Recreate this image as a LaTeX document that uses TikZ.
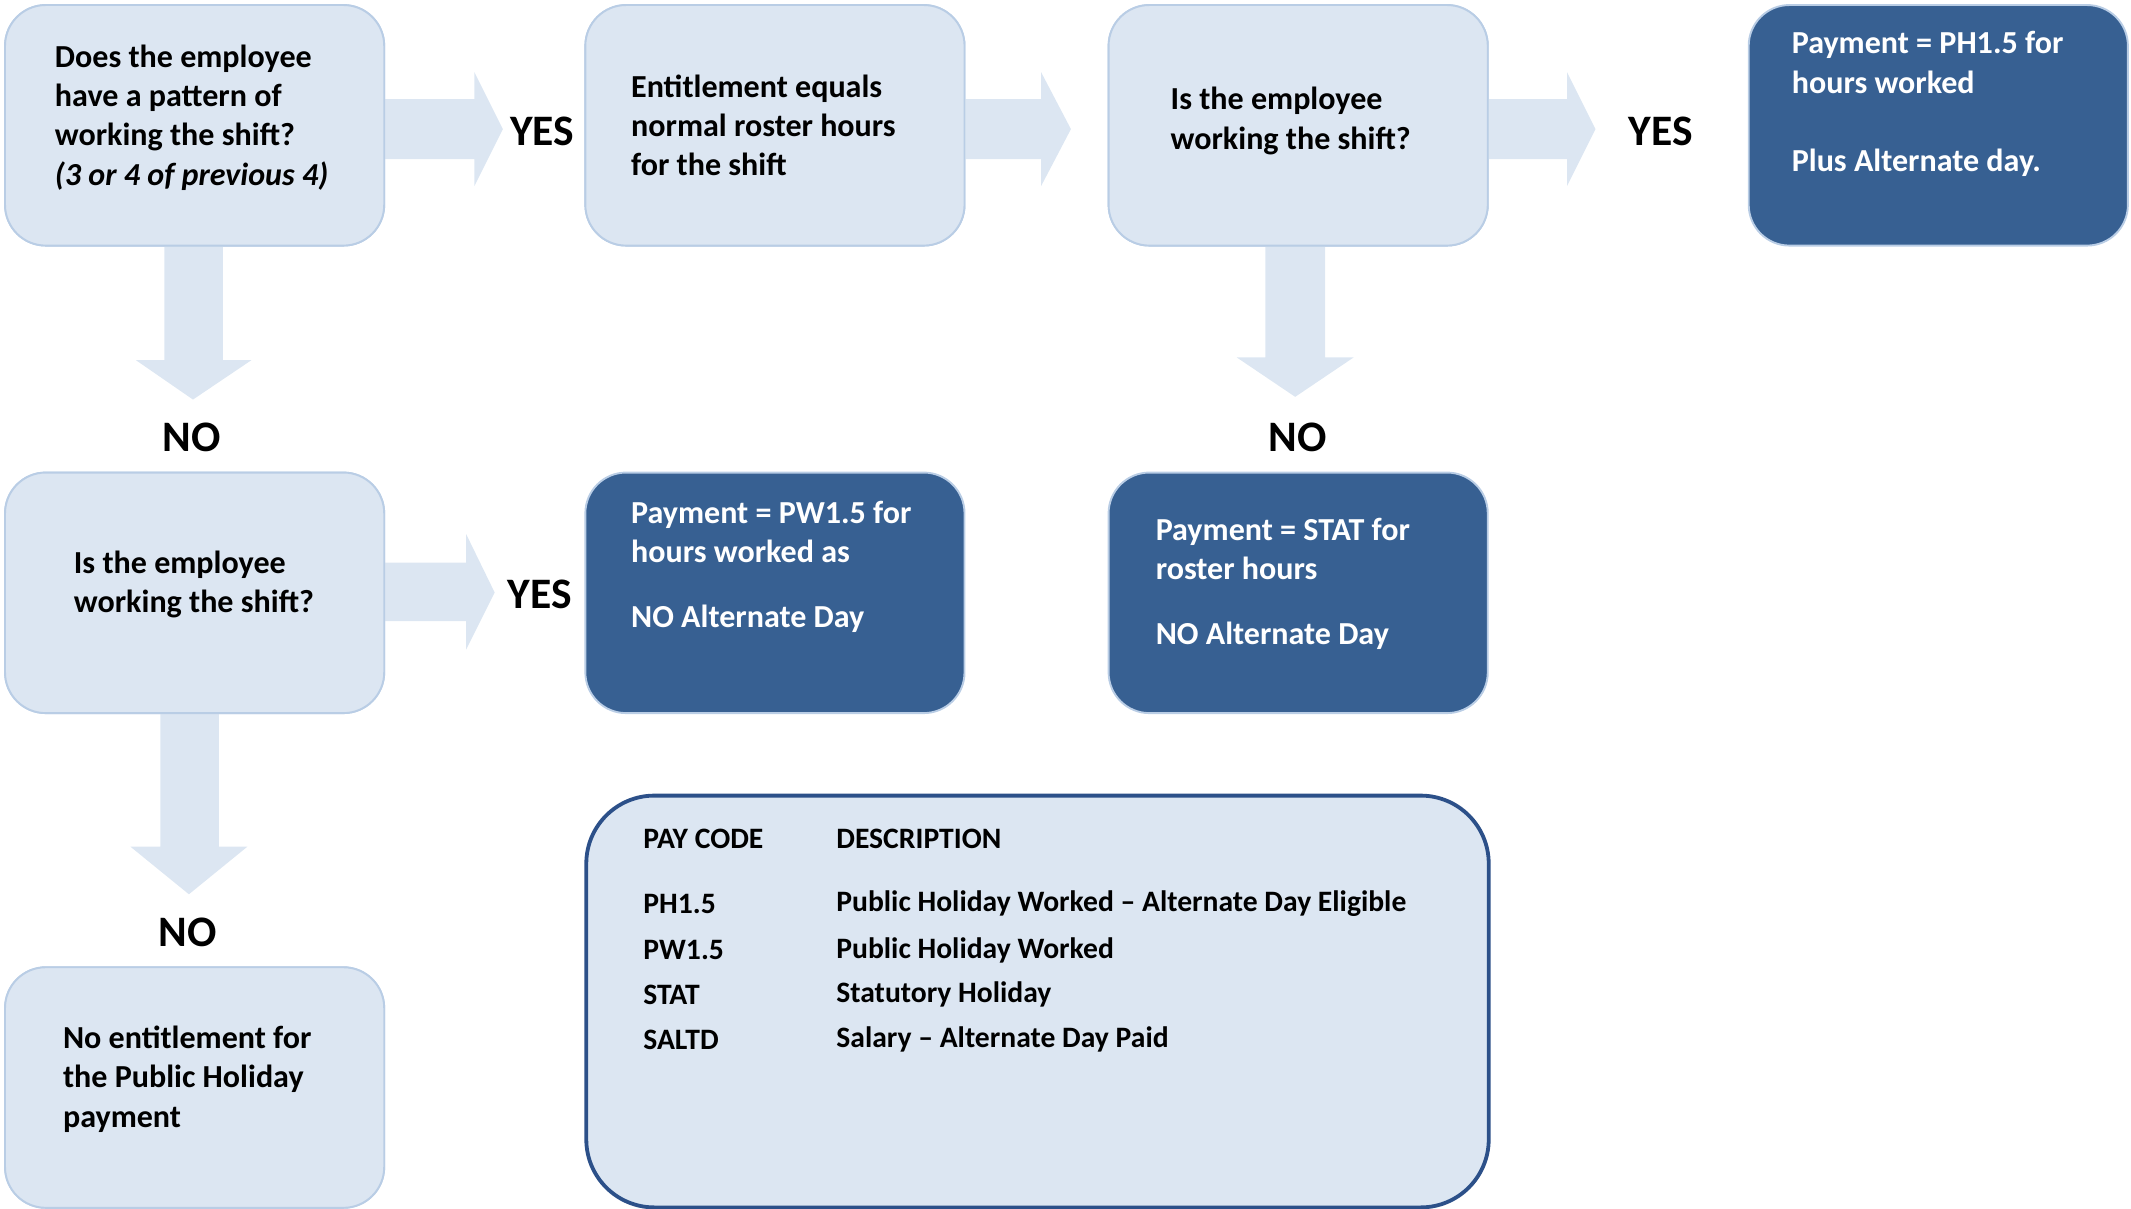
\documentclass[tikz,border=0pt]{standalone}
\usepackage{fontspec}
\setmainfont{Carlito}
\definecolor{lightfill}{HTML}{DCE6F2}
\definecolor{lightline}{HTML}{B9CDE5}
\definecolor{darkfill}{HTML}{376092}
\definecolor{legendline}{HTML}{2C5089}
\begin{document}
\begin{tikzpicture}[x=0.5pt,y=-0.5pt,
  lbox/.style={draw=lightline, line width=0.7pt, fill=lightfill, rounded corners=15pt,
    minimum width=139.5pt, minimum height=88.5pt, inner sep=0pt, anchor=north west},
  dbox/.style={lbox, fill=darkfill},
  legbox/.style={draw=legendline, line width=1.4pt, fill=lightfill, rounded corners=25pt,
    minimum width=332pt, minimum height=151.5pt, inner sep=0pt, anchor=north west},
  txt/.style={align=left, inner sep=0pt, anchor=west, text=black,
    font=\bfseries\fontsize{11.8}{14.4}\selectfont},
  wtxt/.style={txt, text=white},
  lgtxt/.style={inner sep=0pt, anchor=west, font=\bfseries\fontsize{10.9}{13}\selectfont},
  lab/.style={inner sep=0pt, font=\bfseries\fontsize{16}{19}\selectfont},
  arw/.style={fill=lightfill, draw=none}]
\useasboundingbox (0,0) rectangle (1568,889);

% boxes (named) used as anchors for the block arrows
\path (3,3) node[lbox] (b1) {};
\path (430,3) node[lbox] (b2) {};
\path (815,3) node[lbox] (b3) {};
\path (3,347) node[lbox] (b4) {};
\path (3,711) node[lbox] (b5) {};

% block arrows
\fill[arw] (b1.east |- 0,73) -- (349,73) -- (349,53) -- (370,95) -- (349,137) -- (349,117) -- (b1.east |- 0,117) -- cycle;
\fill[arw] (b2.east |- 0,73) -- (766,73) -- (766,53) -- (788,95) -- (766,137) -- (766,117) -- (b2.east |- 0,117) -- cycle;
\fill[arw] (b3.east |- 0,73) -- (1153,73) -- (1153,53) -- (1174,95) -- (1153,137) -- (1153,117) -- (b3.east |- 0,117) -- cycle;
\fill[arw] (121,0 |- b1.south) -- (121,265) -- (100,265) -- (142,294) -- (185,265) -- (164,265) -- (164,0 |- b1.south) -- cycle;
\fill[arw] (931,0 |- b3.south) -- (931,263) -- (910,263) -- (953,292) -- (996,263) -- (975,263) -- (975,0 |- b3.south) -- cycle;
\fill[arw] (b4.east |- 0,414) -- (343,414) -- (343,393) -- (364,436) -- (343,478) -- (343,457) -- (b4.east |- 0,457) -- cycle;
\fill[arw] (118,0 |- b4.south) -- (118,623) -- (96,623) -- (139,658) -- (182,623) -- (161,623) -- (161,0 |- b4.south) -- cycle;

% boxes on top
\path (3,3) node[lbox] {};
\path (430,3) node[lbox] {};
\path (815,3) node[lbox] {};
\path (3,347) node[lbox] {};
\path (3,711) node[lbox] {};
\path (1286,3) node[dbox] (d1) {};
\path (430,347) node[dbox] (d2) {};
\path (815,347) node[dbox] (d3) {};
\path (430,584) node[legbox] (leg) {};

% texts
\node[txt] (t1) at (40,86.5) {Does the employee\\have a pattern of\\working the shift?\\\textit{(3 or 4 of previous 4)}};
\node[txt] (t2) at (464,92) {Entitlement equals\\normal roster hours\\for the shift};
\node[txt] (t3) at (861,89) {Is the employee\\working the shift?};
\node[wtxt] (t4) at (1318,76.5) {Payment = PH1.5 for\\hours worked\\[14.4pt]Plus Alternate day.};
\node[txt] (t5) at (54,430) {Is the employee\\working the shift?};
\node[wtxt] (t6) at (464,417) {Payment = PW1.5 for\\hours worked as\\[9.5pt]NO Alternate Day};
\node[wtxt] (t7) at (850,429.5) {Payment = STAT for\\roster hours\\[9.5pt]NO Alternate Day};
\node[txt] (t8) at (46,794) {No entitlement for\\the Public Holiday\\payment};

% labels
\node[lab] (yes1) at (399,97) {YES};
\node[lab] (yes2) at (1222,97) {YES};
\node[lab] (yes3) at (397,437) {YES};
\node[lab] (no1) at (141,322) {NO};
\node[lab] (no2) at (955,322) {NO};
\node[lab] (no3) at (138,686) {NO};

% legend
\node[lgtxt] (h1) at (473,617) {PAY CODE};
\node[lgtxt] (h2) at (615,617) {DESCRIPTION};
\node[lgtxt] (c1) at (473,665) {PH1.5};
\node[lgtxt] (e1) at (615,665) {Public Holiday Worked – Alternate Day Eligible};
\node[lgtxt] (c2) at (473,699) {PW1.5};
\node[lgtxt] (e2) at (615,699) {Public Holiday Worked};
\node[lgtxt] (c3) at (473,732) {STAT};
\node[lgtxt] (e3) at (615,732) {Statutory Holiday};
\node[lgtxt] (c4) at (473,765) {SALTD};
\node[lgtxt] (e4) at (615,765) {Salary – Alternate Day Paid};
\end{tikzpicture}
\end{document}
